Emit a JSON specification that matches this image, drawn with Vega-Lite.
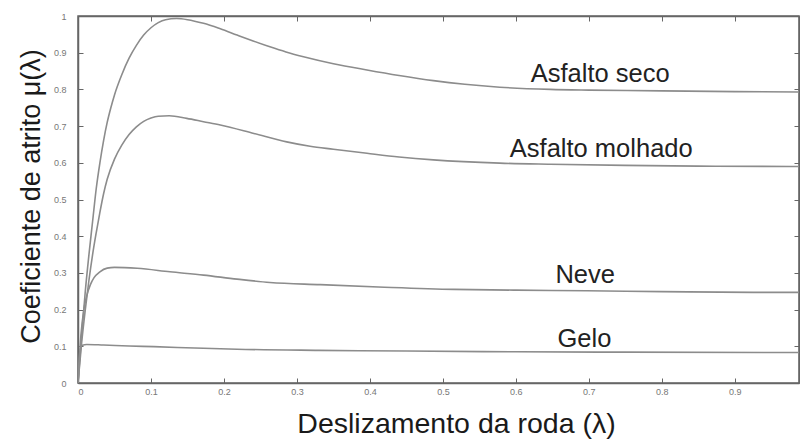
{
  "$schema": "https://vega.github.io/schema/vega-lite/v6.json",
  "width": 721,
  "height": 367,
  "autosize": {"type": "none"},
  "padding": {"left": 78, "top": 16, "right": 1, "bottom": 57},
  "background": "white",
  "config": {
    "view": {"stroke": "#666", "strokeWidth": 1.5},
    "font": "Liberation Sans"
  },
  "datasets": {
    "curvas": [
      {"superficie": "Asfalto seco", "lambda": 0, "mu": 0},
      {"superficie": "Asfalto seco", "lambda": 0.005, "mu": 0.13},
      {"superficie": "Asfalto seco", "lambda": 0.01, "mu": 0.25},
      {"superficie": "Asfalto seco", "lambda": 0.015, "mu": 0.35},
      {"superficie": "Asfalto seco", "lambda": 0.02, "mu": 0.44},
      {"superficie": "Asfalto seco", "lambda": 0.025, "mu": 0.53},
      {"superficie": "Asfalto seco", "lambda": 0.03, "mu": 0.6},
      {"superficie": "Asfalto seco", "lambda": 0.035, "mu": 0.66},
      {"superficie": "Asfalto seco", "lambda": 0.04, "mu": 0.71},
      {"superficie": "Asfalto seco", "lambda": 0.045, "mu": 0.75},
      {"superficie": "Asfalto seco", "lambda": 0.05, "mu": 0.785},
      {"superficie": "Asfalto seco", "lambda": 0.06, "mu": 0.84},
      {"superficie": "Asfalto seco", "lambda": 0.07, "mu": 0.885},
      {"superficie": "Asfalto seco", "lambda": 0.08, "mu": 0.92},
      {"superficie": "Asfalto seco", "lambda": 0.09, "mu": 0.948},
      {"superficie": "Asfalto seco", "lambda": 0.1, "mu": 0.968},
      {"superficie": "Asfalto seco", "lambda": 0.11, "mu": 0.982},
      {"superficie": "Asfalto seco", "lambda": 0.12, "mu": 0.99},
      {"superficie": "Asfalto seco", "lambda": 0.135, "mu": 0.993},
      {"superficie": "Asfalto seco", "lambda": 0.15, "mu": 0.99},
      {"superficie": "Asfalto seco", "lambda": 0.172, "mu": 0.98},
      {"superficie": "Asfalto seco", "lambda": 0.195, "mu": 0.965},
      {"superficie": "Asfalto seco", "lambda": 0.218, "mu": 0.948},
      {"superficie": "Asfalto seco", "lambda": 0.24, "mu": 0.932},
      {"superficie": "Asfalto seco", "lambda": 0.263, "mu": 0.916},
      {"superficie": "Asfalto seco", "lambda": 0.285, "mu": 0.902},
      {"superficie": "Asfalto seco", "lambda": 0.309, "mu": 0.889},
      {"superficie": "Asfalto seco", "lambda": 0.35, "mu": 0.87},
      {"superficie": "Asfalto seco", "lambda": 0.396, "mu": 0.853},
      {"superficie": "Asfalto seco", "lambda": 0.44, "mu": 0.838},
      {"superficie": "Asfalto seco", "lambda": 0.487, "mu": 0.824},
      {"superficie": "Asfalto seco", "lambda": 0.53, "mu": 0.814},
      {"superficie": "Asfalto seco", "lambda": 0.578, "mu": 0.806},
      {"superficie": "Asfalto seco", "lambda": 0.647, "mu": 0.8},
      {"superficie": "Asfalto seco", "lambda": 0.7, "mu": 0.798},
      {"superficie": "Asfalto seco", "lambda": 0.8, "mu": 0.796},
      {"superficie": "Asfalto seco", "lambda": 0.9, "mu": 0.794},
      {"superficie": "Asfalto seco", "lambda": 0.988, "mu": 0.793},
      {"superficie": "Asfalto molhado", "lambda": 0, "mu": 0},
      {"superficie": "Asfalto molhado", "lambda": 0.005, "mu": 0.11},
      {"superficie": "Asfalto molhado", "lambda": 0.01, "mu": 0.2},
      {"superficie": "Asfalto molhado", "lambda": 0.015, "mu": 0.28},
      {"superficie": "Asfalto molhado", "lambda": 0.02, "mu": 0.35},
      {"superficie": "Asfalto molhado", "lambda": 0.025, "mu": 0.41},
      {"superficie": "Asfalto molhado", "lambda": 0.03, "mu": 0.465},
      {"superficie": "Asfalto molhado", "lambda": 0.035, "mu": 0.515},
      {"superficie": "Asfalto molhado", "lambda": 0.04, "mu": 0.555},
      {"superficie": "Asfalto molhado", "lambda": 0.05, "mu": 0.61},
      {"superficie": "Asfalto molhado", "lambda": 0.06, "mu": 0.648},
      {"superficie": "Asfalto molhado", "lambda": 0.07, "mu": 0.677},
      {"superficie": "Asfalto molhado", "lambda": 0.08, "mu": 0.698},
      {"superficie": "Asfalto molhado", "lambda": 0.09, "mu": 0.713},
      {"superficie": "Asfalto molhado", "lambda": 0.1, "mu": 0.722},
      {"superficie": "Asfalto molhado", "lambda": 0.11, "mu": 0.727},
      {"superficie": "Asfalto molhado", "lambda": 0.125, "mu": 0.728},
      {"superficie": "Asfalto molhado", "lambda": 0.149, "mu": 0.721},
      {"superficie": "Asfalto molhado", "lambda": 0.172, "mu": 0.712},
      {"superficie": "Asfalto molhado", "lambda": 0.195, "mu": 0.703},
      {"superficie": "Asfalto molhado", "lambda": 0.241, "mu": 0.68},
      {"superficie": "Asfalto molhado", "lambda": 0.286, "mu": 0.657},
      {"superficie": "Asfalto molhado", "lambda": 0.318, "mu": 0.645},
      {"superficie": "Asfalto molhado", "lambda": 0.35, "mu": 0.637},
      {"superficie": "Asfalto molhado", "lambda": 0.396, "mu": 0.626},
      {"superficie": "Asfalto molhado", "lambda": 0.44, "mu": 0.616},
      {"superficie": "Asfalto molhado", "lambda": 0.487, "mu": 0.608},
      {"superficie": "Asfalto molhado", "lambda": 0.578, "mu": 0.599},
      {"superficie": "Asfalto molhado", "lambda": 0.647, "mu": 0.596},
      {"superficie": "Asfalto molhado", "lambda": 0.75, "mu": 0.593},
      {"superficie": "Asfalto molhado", "lambda": 0.85, "mu": 0.591},
      {"superficie": "Asfalto molhado", "lambda": 0.988, "mu": 0.59},
      {"superficie": "Neve", "lambda": 0, "mu": 0},
      {"superficie": "Neve", "lambda": 0.004, "mu": 0.13},
      {"superficie": "Neve", "lambda": 0.008, "mu": 0.2},
      {"superficie": "Neve", "lambda": 0.012, "mu": 0.238},
      {"superficie": "Neve", "lambda": 0.017, "mu": 0.268},
      {"superficie": "Neve", "lambda": 0.022, "mu": 0.287},
      {"superficie": "Neve", "lambda": 0.03, "mu": 0.303},
      {"superficie": "Neve", "lambda": 0.04, "mu": 0.313},
      {"superficie": "Neve", "lambda": 0.05, "mu": 0.315},
      {"superficie": "Neve", "lambda": 0.081, "mu": 0.3125},
      {"superficie": "Neve", "lambda": 0.126, "mu": 0.303},
      {"superficie": "Neve", "lambda": 0.172, "mu": 0.294},
      {"superficie": "Neve", "lambda": 0.218, "mu": 0.283},
      {"superficie": "Neve", "lambda": 0.263, "mu": 0.274},
      {"superficie": "Neve", "lambda": 0.332, "mu": 0.268},
      {"superficie": "Neve", "lambda": 0.42, "mu": 0.261},
      {"superficie": "Neve", "lambda": 0.515, "mu": 0.255},
      {"superficie": "Neve", "lambda": 0.6, "mu": 0.253},
      {"superficie": "Neve", "lambda": 0.697, "mu": 0.2515},
      {"superficie": "Neve", "lambda": 0.8, "mu": 0.249},
      {"superficie": "Neve", "lambda": 0.925, "mu": 0.247},
      {"superficie": "Neve", "lambda": 0.988, "mu": 0.247},
      {"superficie": "Gelo", "lambda": 0, "mu": 0},
      {"superficie": "Gelo", "lambda": 0.003, "mu": 0.09},
      {"superficie": "Gelo", "lambda": 0.006, "mu": 0.103},
      {"superficie": "Gelo", "lambda": 0.012, "mu": 0.105},
      {"superficie": "Gelo", "lambda": 0.035, "mu": 0.1035},
      {"superficie": "Gelo", "lambda": 0.07, "mu": 0.101},
      {"superficie": "Gelo", "lambda": 0.104, "mu": 0.099},
      {"superficie": "Gelo", "lambda": 0.172, "mu": 0.0945},
      {"superficie": "Gelo", "lambda": 0.218, "mu": 0.092},
      {"superficie": "Gelo", "lambda": 0.33, "mu": 0.089},
      {"superficie": "Gelo", "lambda": 0.45, "mu": 0.087},
      {"superficie": "Gelo", "lambda": 0.6, "mu": 0.085},
      {"superficie": "Gelo", "lambda": 0.75, "mu": 0.084},
      {"superficie": "Gelo", "lambda": 0.988, "mu": 0.083}
    ],
    "rotulos": [
      {"texto": "Asfalto seco", "lambda": 0.7155, "mu": 0.821},
      {"texto": "Asfalto molhado", "lambda": 0.717, "mu": 0.6166},
      {"texto": "Neve", "lambda": 0.695, "mu": 0.2717},
      {"texto": "Gelo", "lambda": 0.694, "mu": 0.099}
    ]
  },
  "resolve": {"axis": {"x": "independent", "y": "independent"}},
  "layer": [
    {
      "data": {"name": "curvas"},
      "mark": {"type": "line", "interpolate": "monotone", "stroke": "#8c8c8c", "strokeWidth": 1.6, "clip": true},
      "encoding": {
        "x": {
          "field": "lambda", "type": "quantitative",
          "scale": {"domain": [0, 0.988], "nice": false, "zero": true},
          "axis": {
            "orient": "bottom",
            "values": [0, 0.1, 0.2, 0.3, 0.4, 0.5, 0.6, 0.7, 0.8, 0.9],
            "format": "~g",
            "grid": false,
            "domainColor": "#666", "domainWidth": 1.5,
            "tickColor": "#666", "tickSize": -5, "tickWidth": 1,
            "labelFontSize": 9, "labelColor": "#777", "labelPadding": 9,
            "title": "Deslizamento da roda (λ)",
            "titleFontSize": 28.5, "titleFontWeight": "normal", "titleColor": "#1a1a1a",
            "titleBaseline": "alphabetic", "titleX": 378, "titleY": 49
          }
        },
        "y": {
          "field": "mu", "type": "quantitative",
          "scale": {"domain": [0, 1], "nice": false},
          "axis": {
            "orient": "left",
            "values": [0, 0.1, 0.2, 0.3, 0.4, 0.5, 0.6, 0.7, 0.8, 0.9, 1],
            "format": "~g",
            "grid": false,
            "domainColor": "#666", "domainWidth": 1.5,
            "tickColor": "#666", "tickSize": -5, "tickWidth": 1,
            "labelFontSize": 9, "labelColor": "#777", "labelPadding": 17,
            "title": "Coeficiente de atrito μ(λ)",
            "titleFontSize": 27, "titleFontWeight": "normal", "titleColor": "#1a1a1a",
            "titleAngle": -90, "titleAlign": "center", "titleBaseline": "alphabetic",
            "titleX": -39, "titleY": 180
          }
        },
        "detail": {"field": "superficie"}
      }
    },
    {
      "data": {"name": "rotulos"},
      "mark": {"type": "text", "fontSize": 25.5, "font": "Liberation Sans", "color": "#222", "align": "center", "baseline": "alphabetic"},
      "encoding": {
        "x": {
          "field": "lambda", "type": "quantitative",
          "axis": {
            "orient": "top", "values": [0, 0.1, 0.2, 0.3, 0.4, 0.5, 0.6, 0.7, 0.8, 0.9],
            "labels": false, "title": null, "grid": false,
            "domainColor": "#666", "domainWidth": 1.5,
            "tickColor": "#666", "tickSize": -5, "tickWidth": 1
          }
        },
        "y": {
          "field": "mu", "type": "quantitative",
          "axis": {
            "orient": "right", "values": [0, 0.1, 0.2, 0.3, 0.4, 0.5, 0.6, 0.7, 0.8, 0.9, 1],
            "labels": false, "title": null, "grid": false,
            "domainColor": "#666", "domainWidth": 1.5,
            "tickColor": "#666", "tickSize": -5, "tickWidth": 1
          }
        },
        "text": {"field": "texto"}
      }
    }
  ]
}
